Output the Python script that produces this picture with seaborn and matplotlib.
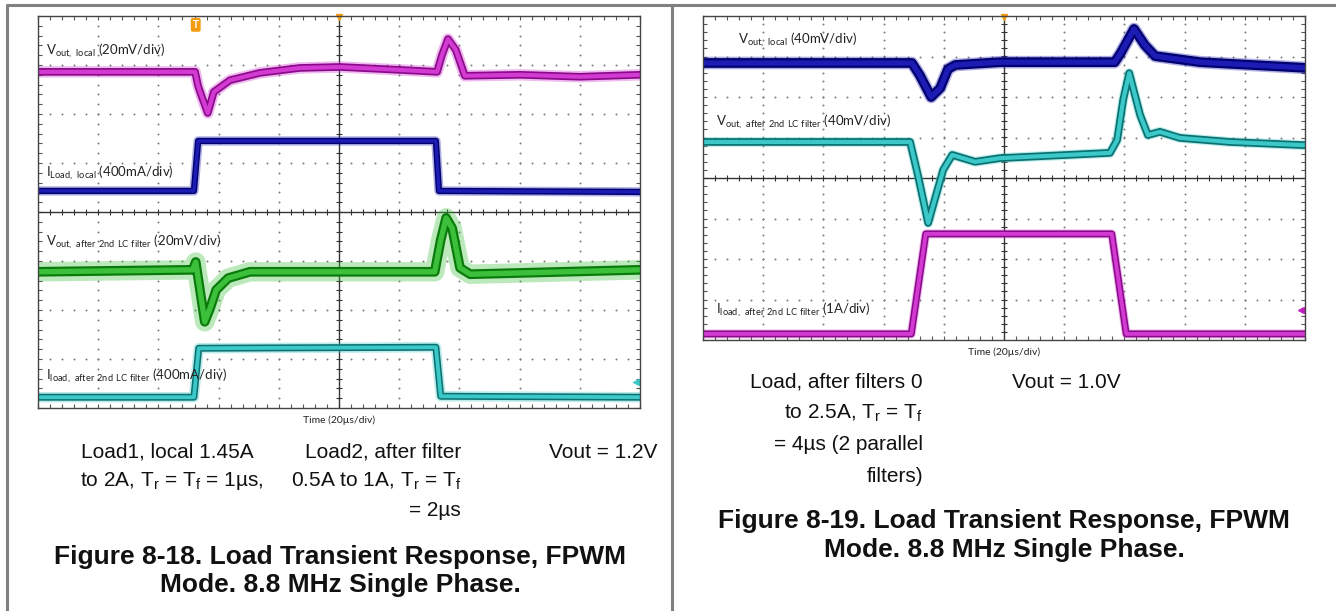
import numpy as np
import matplotlib
matplotlib.use("Agg")
import matplotlib.pyplot as plt
import seaborn as sns
from matplotlib.lines import Line2D

W, H = 1336, 611

# ---- Figure 8-18 (left screenshot): time / amplitude in scope divisions ----
l_vloc_t = [0, 2.61, 2.66, 2.71, 2.82, 2.92, 3.19, 3.69, 4.35, 5.02, 6.01, 6.63, 6.71, 6.81, 6.94, 7.09, 8.01, 9.00, 10]
l_vloc_v = [6.86, 6.86, 6.57, 6.39, 6.02, 6.45, 6.69, 6.84, 6.94, 6.96, 6.90, 6.86, 7.20, 7.53, 7.31, 6.78, 6.80, 6.76, 6.80]

l_iloc_t = [0, 2.59, 2.66, 6.61, 6.66, 10]
l_iloc_v = [4.43, 4.43, 5.45, 5.45, 4.43, 4.41]

l_vfil_t = [0, 2.57, 2.62, 2.69, 2.77, 2.86, 2.96, 3.16, 3.52, 6.59, 6.69, 6.78, 6.88, 7.01, 7.18, 10]
l_vfil_v = [2.78, 2.82, 2.98, 2.41, 1.76, 2.04, 2.41, 2.65, 2.78, 2.78, 3.43, 3.88, 3.67, 2.86, 2.73, 2.82]

l_ifil_t = [0, 2.59, 2.67, 6.61, 6.69, 10]
l_ifil_v = [0.22, 0.22, 1.22, 1.24, 0.24, 0.22]

# ---- Figure 8-19 (right screenshot) ----
r_vloc_t = [0, 3.47, 3.60, 3.79, 3.94, 4.07, 4.19, 4.93, 6.84, 6.94, 7.16, 7.34, 7.51, 8.26, 10]
r_vloc_v = [6.84, 6.84, 6.54, 6.00, 6.22, 6.69, 6.79, 6.86, 6.86, 7.09, 7.68, 7.28, 7.01, 6.86, 6.72]

r_vfil_t = [0, 3.44, 3.57, 3.74, 3.99, 4.14, 4.52, 4.93, 6.76, 6.88, 6.98, 7.08, 7.26, 7.39, 7.59, 7.92, 8.75, 10]
r_vfil_v = [4.89, 4.89, 4.07, 2.89, 4.20, 4.57, 4.40, 4.49, 4.62, 4.94, 5.93, 6.59, 5.56, 5.06, 5.14, 4.99, 4.89, 4.81]

r_ifil_t = [0, 3.46, 3.70, 6.79, 7.03, 10]
r_ifil_v = [0.15, 0.15, 2.62, 2.62, 0.15, 0.15]

left_labels = [r"V$_{out,\ local}$ (20mV/div)", r"I$_{Load,\ local}$ (400mA/div)",
               r"V$_{out,\ after\ 2nd\ LC\ filter}$ (20mV/div)", r"I$_{load,\ after\ 2nd\ LC\ filter}$ (400mA/div)"]
right_labels = [r"V$_{out,\ local}$ (40mV/div)", r"V$_{out,\ after\ 2nd\ LC\ filter}$ (40mV/div)",
                r"I$_{load,\ after\ 2nd\ LC\ filter}$ (1A/div)"]

MAGENTA = ("#8a0a8a", "#d23ad2")
BLUE = ("#00006e", "#1c1cb4")
GREEN = ("#0a7a0a", "#3cc03c")
CYAN = ("#0a7070", "#3cc8c8")

sns.set_theme(style="white")
plt.rcParams["font.family"] = ["Liberation Sans", "DejaVu Sans"]
plt.rcParams["mathtext.default"] = "regular"


def fpos(x, y):
    return x / W, 1 - y / H


def scope_axes(fig, x0, y0, x1, y1):
    ax = fig.add_axes([x0 / W, 1 - y1 / H, (x1 - x0) / W, (y1 - y0) / H])
    ax.set_xlim(0, 10)
    ax.set_ylim(0, 8)
    ax.set_xticks(np.arange(0, 10.01, 1))
    ax.set_yticks(np.arange(0, 8.01, 1))
    ax.set_xticks(np.arange(0, 10.01, 0.2), minor=True)
    ax.set_yticks(np.arange(0, 8.01, 0.2), minor=True)
    ax.tick_params(which="both", direction="in", length=3, width=0.8, color="#555555",
                   top=True, right=True, bottom=True, left=True,
                   labelbottom=False, labelleft=False)
    for s in ax.spines.values():
        s.set_color("#444444")
        s.set_linewidth(1.0)
    ys = np.arange(0.2, 8, 0.2)
    xs = np.arange(0.2, 10, 0.2)
    for gx in range(1, 10):
        if gx != 5:
            ax.plot(np.full(len(ys), gx), ys, ls="none", marker="o", ms=1.4, color="#7a7a7a", mew=0)
    for gy in range(1, 8):
        if gy != 4:
            ax.plot(xs, np.full(len(xs), gy), ls="none", marker="o", ms=1.4, color="#7a7a7a", mew=0)
    ax.axvline(5, color="#333333", lw=1.0)
    ax.axhline(4, color="#333333", lw=1.0)
    ax.plot(xs, np.full(len(xs), 4), ls="none", marker="|", ms=5, mew=0.8, color="#333333")
    ax.plot(np.full(len(ys), 5), ys, ls="none", marker="_", ms=5, mew=0.8, color="#333333")
    return ax


def trace(ax, t, v, colors, band, halo=1.5):
    dark, light = colors
    # faint envelope standing in for the scope noise
    sns.lineplot(x=t, y=v, ax=ax, color=light, linewidth=band * halo, alpha=0.35, sort=False,
                 estimator=None, solid_joinstyle="round")
    sns.lineplot(x=t, y=v, ax=ax, color=dark, linewidth=band, sort=False, estimator=None,
                 solid_joinstyle="round")
    sns.lineplot(x=t, y=v, ax=ax, color=light, linewidth=band * 0.55, sort=False, estimator=None,
                 solid_joinstyle="round")


fig = plt.figure(figsize=(W / 100, H / 100), dpi=100)

# table borders
for xa, ya in [([7, W], [5, 5]), ([7, 7], [5, H]), ([672, 672], [5, H])]:
    fig.add_artist(Line2D([x / W for x in xa], [1 - y / H for y in ya], color="#808080", lw=2.2))

# ---------------- left scope ----------------
axl = scope_axes(fig, 38, 16, 640, 408)
trace(axl, l_vloc_t, l_vloc_v, MAGENTA, 5.5)
trace(axl, l_iloc_t, l_iloc_v, BLUE, 4.5)
trace(axl, l_vfil_t, l_vfil_v, GREEN, 7.0, halo=2.0)
trace(axl, l_ifil_t, l_ifil_v, CYAN, 5.0)
axl.text(2.62, 7.82, "T", color="white", fontsize=7, fontweight="bold", ha="center", va="center",
         bbox=dict(boxstyle="round,pad=0.2", fc="#f39c12", ec="none"))
axl.plot([5], [7.97], marker="v", ms=5, color="#f39c12", clip_on=False)
axl.plot([9.93], [0.53], marker="<", ms=4, color="#3cc8c8", clip_on=False)

for lab, y in zip(left_labels, [51, 173, 242, 376]):
    fig.text(*fpos(46, y), lab, family=["Lato", "DejaVu Sans"], fontsize=9.5, ha="left", va="center",
             color="#222222")
fig.text(*fpos(339, 420), "Time (20\u00b5s/div)", family=["Lato", "DejaVu Sans"], fontsize=7.5,
         ha="center", va="center", color="#222222")

# ---------------- right scope ----------------
axr = scope_axes(fig, 703, 16, 1305, 340)
trace(axr, r_vloc_t, r_vloc_v, BLUE, 7.0, halo=1.3)
trace(axr, r_vfil_t, r_vfil_v, CYAN, 5.5, halo=1.3)
trace(axr, r_ifil_t, r_ifil_v, MAGENTA, 5.0, halo=1.3)
axr.plot([5], [7.97], marker="v", ms=5, color="#f39c12", clip_on=False)
axr.plot([9.93], [0.74], marker="<", ms=4, color="#c020c0", clip_on=False)

for lab, (x, y) in zip(right_labels, [(738, 40), (716, 122), (716, 310)]):
    fig.text(*fpos(x, y), lab, family=["Lato", "DejaVu Sans"], fontsize=9.5, ha="left", va="center",
             color="#222222")
fig.text(*fpos(1004, 352), "Time (20\u00b5s/div)", family=["Lato", "DejaVu Sans"], fontsize=7.5,
         ha="center", va="center", color="#222222")

# ---------------- captions ----------------
cap = dict(fontsize=15, color="#111111", va="center")
fig.text(*fpos(254, 452), "Load1, local 1.45A", ha="right", **cap)
fig.text(*fpos(264, 481), "to 2A, T$_r$ = T$_f$ = 1\u00b5s,", ha="right", **cap)
fig.text(*fpos(461, 452), "Load2, after filter", ha="right", **cap)
fig.text(*fpos(461, 481), "0.5A to 1A, T$_r$ = T$_f$", ha="right", **cap)
fig.text(*fpos(461, 510), "= 2\u00b5s", ha="right", **cap)
fig.text(*fpos(549, 452), "Vout = 1.2V", ha="left", **cap)

fig.text(*fpos(923, 382), "Load, after filters 0", ha="right", **cap)
fig.text(*fpos(923, 413), "to 2.5A, T$_r$ = T$_f$", ha="right", **cap)
fig.text(*fpos(923, 445), "= 4\u00b5s (2 parallel", ha="right", **cap)
fig.text(*fpos(923, 477), "filters)", ha="right", **cap)
fig.text(*fpos(1012, 382), "Vout = 1.0V", ha="left", **cap)

ttl = dict(fontsize=19, fontweight="bold", color="#111111", ha="center", va="center")
fig.text(*fpos(340, 557), "Figure 8-18. Load Transient Response, FPWM", **ttl)
fig.text(*fpos(340, 585), "Mode. 8.8 MHz Single Phase.", **ttl)
fig.text(*fpos(1004, 521), "Figure 8-19. Load Transient Response, FPWM", **ttl)
fig.text(*fpos(1004, 550), "Mode. 8.8 MHz Single Phase.", **ttl)

fig.savefig("out.png", dpi=100)
